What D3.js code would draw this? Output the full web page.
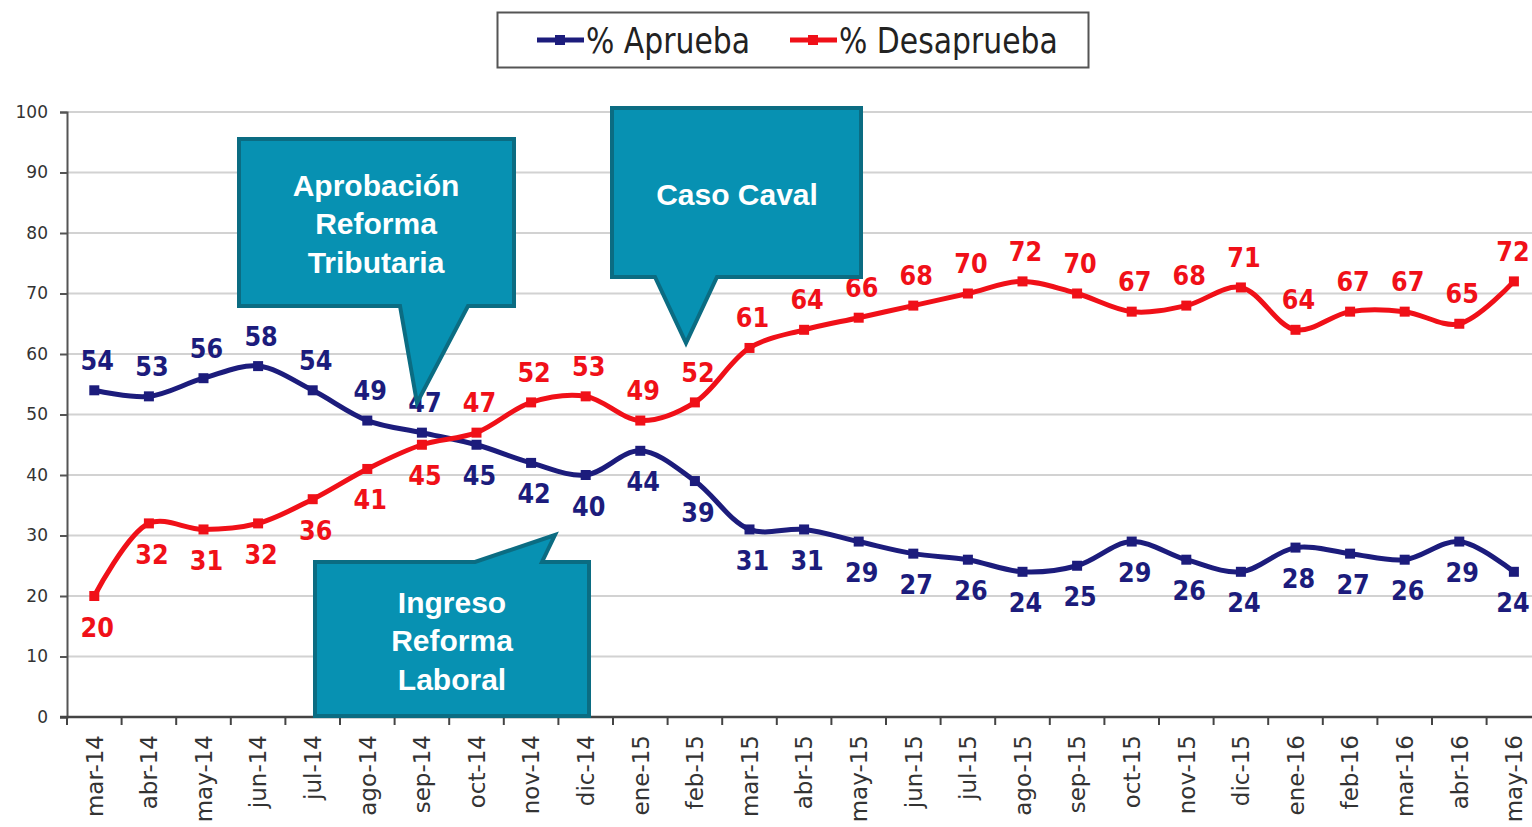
<!DOCTYPE html>
<html>
<head>
<meta charset="utf-8">
<script src="https://cdn.jsdelivr.net/npm/d3@7"></script>
<style>
body { margin: 0; background: #fff; }
svg { display: block; }
</style>
</head>
<body>
<svg id="chart"></svg>
<script>
const WIDTH = 1532;
const HEIGHT = 827;

const MONTHS = [
	"mar-14", "abr-14", "may-14", "jun-14", "jul-14", "ago-14", "sep-14", "oct-14", "nov-14", "dic-14",
	"ene-15", "feb-15", "mar-15", "abr-15", "may-15", "jun-15", "jul-15", "ago-15", "sep-15", "oct-15",
	"nov-15", "dic-15", "ene-16", "feb-16", "mar-16", "abr-16", "may-16",
];
const APRUEBA = [54, 53, 56, 58, 54, 49, 47, 45, 42, 40, 44, 39, 31, 31, 29, 27, 26, 24, 25, 29, 26, 24, 28, 27, 26, 29, 24];
const DESAPRUEBA = [20, 32, 31, 32, 36, 41, 45, 47, 52, 53, 49, 52, 61, 64, 66, 68, 70, 72, 70, 67, 68, 71, 64, 67, 67, 65, 72];
const Y_TICKS = d3.range(0, 101, 10);

const SERIES_NAMES = ["% Aprueba", "% Desaprueba"];
const SERIES_COLORS = ["#1c1c7c", "#f01018"];

const CALLOUT_TEXT = [
	["Aprobación", "Reforma", "Tributaria"],
	["Caso Caval"],
	["Ingreso", "Reforma", "Laboral"],
];

const PLOT_LEFT = 67;
const PLOT_TOP = 112;
const PLOT_BOTTOM = 717;
const BAND = 54.6;

const svg = d3.select("#chart").attr("width", WIDTH).attr("height", HEIGHT);

const xScale = d3.scaleBand(MONTHS, [PLOT_LEFT, PLOT_LEFT + BAND * MONTHS.length]).paddingInner(0).paddingOuter(0);
const xMid = m => xScale(m) + xScale.bandwidth() / 2;
const yScale = d3.scaleLinear([0, 100], [PLOT_BOTTOM, PLOT_TOP]);

// grid
svg.append("g")
	.selectAll("line")
	.data(Y_TICKS.filter(d => d > 0))
	.join("line")
	.attr("x1", PLOT_LEFT)
	.attr("x2", WIDTH)
	.attr("y1", d => yScale(d))
	.attr("y2", d => yScale(d))
	.attr("stroke", "#d2d2d2")
	.attr("stroke-width", 2);

// y axis
const yAxis = svg.append("g")
	.attr("transform", `translate(${PLOT_LEFT},0)`)
	.call(d3.axisLeft(yScale).tickValues(Y_TICKS).tickSize(7).tickPadding(12));
yAxis.select(".domain").attr("stroke", "#555").attr("stroke-width", 2);
yAxis.selectAll(".tick line").attr("stroke", "#555").attr("stroke-width", 2);
yAxis.selectAll(".tick text")
	.attr("fill", "#333")
	.style("font", "17px 'DejaVu Sans'");

// x axis
const xAxis = svg.append("g")
	.attr("transform", `translate(0,${PLOT_BOTTOM})`)
	.call(d3.axisBottom(xScale).tickSize(0).tickPadding(0));
xAxis.select(".domain").remove();
xAxis.append("line")
	.attr("x1", PLOT_LEFT - 7)
	.attr("x2", WIDTH)
	.attr("stroke", "#444")
	.attr("stroke-width", 2.5);
xAxis.selectAll(".bound")
	.data(MONTHS)
	.join("line")
	.attr("class", "bound")
	.attr("x1", d => xScale(d))
	.attr("x2", d => xScale(d))
	.attr("y1", 0)
	.attr("y2", 8)
	.attr("stroke", "#444")
	.attr("stroke-width", 2);
xAxis.selectAll(".tick text")
	.attr("fill", "#333")
	.attr("transform", "rotate(-90)")
	.attr("text-anchor", "end")
	.attr("dx", "-18")
	.attr("dy", "0.36em")
	.attr("x", 0)
	.attr("y", 0)
	.style("font", "23px 'DejaVu Sans'");

// series
const line = d3.line()
	.x((d, i) => xMid(MONTHS[i]))
	.y(d => yScale(d))
	.curve(d3.curveCatmullRom.alpha(0.5));

const seriesData = [APRUEBA, DESAPRUEBA];

seriesData.forEach((values, s) => {
	const other = seriesData[1 - s];
	const color = SERIES_COLORS[s];
	const g = svg.append("g");

	g.append("path")
		.attr("d", line(values))
		.attr("fill", "none")
		.attr("stroke", color)
		.attr("stroke-width", 5)
		.attr("stroke-linejoin", "round");

	g.selectAll("rect")
		.data(values)
		.join("rect")
		.attr("x", (d, i) => xMid(MONTHS[i]) - 5)
		.attr("y", d => yScale(d) - 5)
		.attr("width", 10)
		.attr("height", 10)
		.attr("fill", color);

	// label sits above when this series is the higher one
	g.selectAll("text")
		.data(values)
		.join("text")
		.attr("transform", (d, i) => {
			const above = d >= other[i];
			const y = yScale(d) + (above ? -30 : 31);
			const x = Math.min(xMid(MONTHS[i]) + 3, WIDTH - 19);
			return `translate(${x},${y}) scale(1,1.1)`;
		})
		.attr("text-anchor", "middle")
		.attr("dy", "0.36em")
		.attr("fill", color)
		.style("font", "bold 24px 'DejaVu Sans'")
		.text(d => d);
});

// legend
const legend = svg.append("g");
legend.append("rect")
	.attr("x", 497.5)
	.attr("y", 12.5)
	.attr("width", 591)
	.attr("height", 55)
	.attr("fill", "#fff")
	.attr("stroke", "#555")
	.attr("stroke-width", 2);

const legendItems = legend.selectAll(".item")
	.data(SERIES_NAMES)
	.join("g")
	.attr("class", "item")
	.attr("transform", (d, i) => `translate(${i === 0 ? 537 : 790},40)`);
legendItems.append("line")
	.attr("x1", 0)
	.attr("x2", 47)
	.attr("stroke", (d, i) => SERIES_COLORS[i])
	.attr("stroke-width", 5);
legendItems.append("rect")
	.attr("x", 18)
	.attr("y", -5)
	.attr("width", 10)
	.attr("height", 10)
	.attr("fill", (d, i) => SERIES_COLORS[i]);
legendItems.append("text")
	.attr("transform", "translate(49,0) scale(1.03,1.2)")
	.attr("dy", "0.36em")
	.attr("fill", "#222")
	.style("font", "29px 'DejaVu Sans'")
	.text(d => d);

// callouts: box + pointer, geometry in px
const CALLOUT_SHAPES = [
	{ box: [239, 139, 514, 306], side: "bottom", base: [400, 468], tip: [417, 403], cx: 376, cy: 185 },
	{ box: [612, 108, 861, 277], side: "bottom", base: [655, 717], tip: [686, 343], cx: 737, cy: 194 },
	{ box: [315, 562, 589, 716], side: "top", base: [475, 542], tip: [555, 535], cx: 452, cy: 602 },
];

CALLOUT_SHAPES.forEach((c, k) => {
	const [x0, y0, x1, y1] = c.box;
	const [b0, b1] = c.base;
	const path = d3.path();
	if (c.side === "bottom") {
		path.moveTo(x0, y0);
		path.lineTo(x1, y0);
		path.lineTo(x1, y1);
		path.lineTo(b1, y1);
		path.lineTo(c.tip[0], c.tip[1]);
		path.lineTo(b0, y1);
		path.lineTo(x0, y1);
	} else {
		path.moveTo(x0, y0);
		path.lineTo(b0, y0);
		path.lineTo(c.tip[0], c.tip[1]);
		path.lineTo(b1, y0);
		path.lineTo(x1, y0);
		path.lineTo(x1, y1);
		path.lineTo(x0, y1);
	}
	path.closePath();

	const g = svg.append("g");
	g.append("path")
		.attr("d", path.toString())
		.attr("fill", "#0791b2")
		.attr("stroke", "#0b6c82")
		.attr("stroke-width", 4)
		.attr("stroke-linejoin", "miter");

	g.selectAll("text")
		.data(CALLOUT_TEXT[k])
		.join("text")
		.attr("x", c.cx)
		.attr("y", (d, i) => c.cy + i * 38.5)
		.attr("dy", "0.36em")
		.attr("text-anchor", "middle")
		.attr("fill", "#fff")
		.style("font", "bold 30px 'Liberation Sans'")
		.text(d => d);
});
</script>
</body>
</html>
